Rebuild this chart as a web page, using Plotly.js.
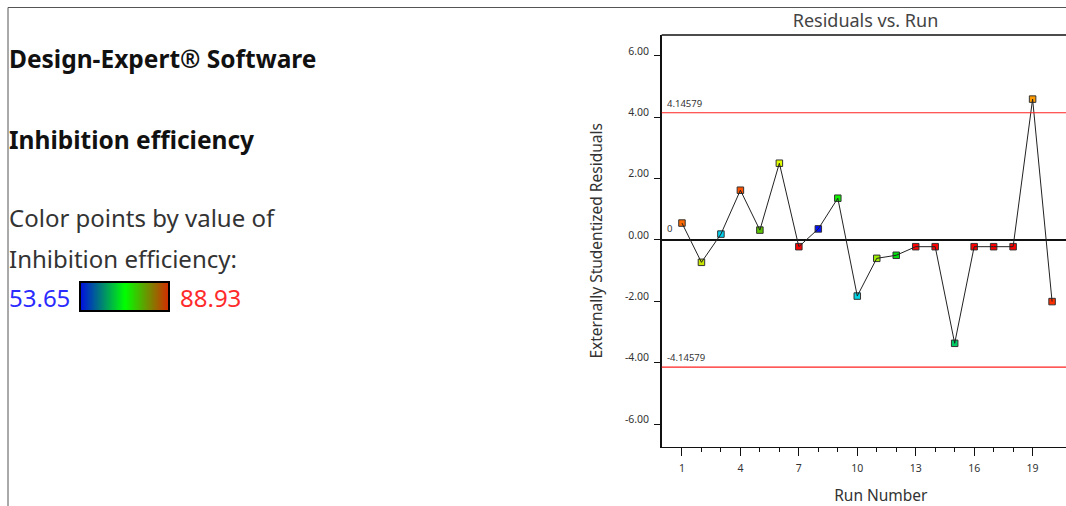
<!DOCTYPE html>
<html>
<head>
<meta charset="utf-8">
<script src="https://cdn.plot.ly/plotly-3.0.1.min.js"></script>
<style>
  html, body { margin: 0; padding: 0; background: #fff; overflow: hidden; }
  #wrap { width: 1066px; height: 506px; overflow: hidden; position: relative; }
  #chart { width: 1120px; height: 506px; position: absolute; left: 0; top: 0; }
</style>
</head>
<body>
<div id="wrap"><div id="chart"></div></div>
<script>
// Run order and externally studentized residuals
const runs = [1, 2, 3, 4, 5, 6, 7, 8, 9, 10, 11, 12, 13, 14, 15, 16, 17, 18, 19, 20];
const residuals = [0.55, -0.73, 0.19, 1.62, 0.32, 2.50, -0.22, 0.36, 1.36, -1.83,
                   -0.60, -0.50, -0.22, -0.22, -3.37, -0.22, -0.22, -0.22, 4.59, -2.01];
// Point colours (by Inhibition efficiency)
const pointColors = ['#ff6a00', '#c8e600', '#00d2f0', '#ff5200', '#5cc400', '#e2ff00', '#ff0000', '#0010ff', '#10f000', '#00d6e6',
                     '#9ced00', '#00de10', '#ff0000', '#ff0000', '#00cc66', '#ff0000', '#ff0000', '#ff0000', '#ff9a00', '#ff3000'];
// Outlier limits
const limitValue = 4.14579;
const limitLabels = ['4.14579', '-4.14579'];
// Axis ticks
const xMajorTicks = [1, 4, 7, 10, 13, 16, 19];
const xMinorTicks = [1, 2, 3, 4, 5, 6, 7, 8, 9, 10, 11, 12, 13, 14, 15, 16, 17, 18, 19];
const yTickVals = [-6, -4, -2, 0, 2, 4, 6];
const yTickText = ['-6.00', '-4.00', '-2.00', '0.00', '2.00', '4.00', '6.00'];
// Colour legend range
const effLow = 53.65;
const effHigh = 88.93;
const legendScale = [[0, '#0010e0'], [0.5, '#00ff00'], [1, '#d82800']];

const W = 1120, H = 506;
const px = v => v / W;
const py = v => 1 - v / H;
const plotLeft = px(661.7), plotRight = px(1100);
const plotBottom = py(446.7), plotTop = py(35);

const font = 'Noto Sans, Open Sans, sans-serif';

const traces = [
  {
    x: runs, y: residuals, type: 'scatter', mode: 'markers',
    marker: { symbol: 'square', size: 6.5, color: pointColors, line: { color: '#333', width: 1 } },
    xaxis: 'x', yaxis: 'y', hoverinfo: 'x+y', showlegend: false
  },
  {
    x: runs, y: residuals, type: 'scatter', mode: 'lines',
    line: { color: '#222', width: 1 },
    xaxis: 'x', yaxis: 'y', hoverinfo: 'skip', showlegend: false
  },
  {
    type: 'heatmap', x: [0, 1], y: [0, 1],
    z: [[effLow, effHigh], [effLow, effHigh]],
    zmin: effLow, zmax: effHigh, zsmooth: 'best',
    colorscale: legendScale, showscale: false, hoverinfo: 'skip',
    xaxis: 'x2', yaxis: 'y2'
  }
];

const layout = {
  width: W, height: H,
  margin: { l: 0, r: 0, t: 0, b: 0 },
  paper_bgcolor: '#fff', plot_bgcolor: '#fff',
  showlegend: false,
  font: { family: font, color: '#333' },
  title: {
    text: 'Residuals vs. Run',
    font: { family: font, size: 18, color: '#444' },
    x: px(865.5), xref: 'paper', xanchor: 'center',
    y: py(21), yref: 'container', yanchor: 'middle'
  },
  xaxis: {
    domain: [plotLeft, plotRight],
    range: [-0.04, 22.46],
    showgrid: false, zeroline: false,
    showline: true, linecolor: '#111', linewidth: 1.5, mirror: false,
    tickmode: 'array', tickvals: xMajorTicks,
    ticks: 'outside', ticklen: 8, tickcolor: '#111', tickwidth: 1,
    ticklabelstandoff: 3,
    minor: { tickmode: 'array', tickvals: xMinorTicks, ticks: 'outside', ticklen: 4, tickcolor: '#111', showgrid: false },
    tickfont: { family: font, size: 10.5, color: '#333' },
    title: { text: 'Run Number', font: { family: font, size: 15.5, color: '#333' }, standoff: 16 },
    automargin: false, fixedrange: true
  },
  yaxis: {
    domain: [plotBottom, plotTop],
    range: [-6.74, 6.68],
    showgrid: false, zeroline: true, zerolinecolor: '#111', zerolinewidth: 1.5,
    showline: true, linecolor: '#111', linewidth: 1.5, mirror: false,
    tickmode: 'array', tickvals: yTickVals, ticktext: yTickText,
    ticks: 'outside', ticklen: 6, tickcolor: '#111',
    tickfont: { family: font, size: 10.5, color: '#333' },
    ticklabelshift: -5, ticklabelstandoff: 3,
    title: { text: 'Externally Studentized Residuals', font: { family: font, size: 15.5, color: '#333' }, standoff: 18 },
    automargin: false, fixedrange: true
  },
  xaxis2: { domain: [px(80), px(169)], range: [0, 1], visible: false, fixedrange: true, anchor: 'y2' },
  yaxis2: { domain: [py(311), py(282)], range: [0, 1], visible: false, fixedrange: true, anchor: 'x2' },
  shapes: [
    // top edge of the plot area
    { type: 'line', xref: 'paper', yref: 'paper', x0: plotLeft, x1: plotRight, y0: plotTop, y1: plotTop, line: { color: '#111', width: 1.5 } },
    // outlier limits
    { type: 'line', xref: 'paper', yref: 'y', x0: plotLeft, x1: plotRight, y0: limitValue, y1: limitValue, line: { color: '#ff2020', width: 1.2 } },
    { type: 'line', xref: 'paper', yref: 'y', x0: plotLeft, x1: plotRight, y0: -limitValue, y1: -limitValue, line: { color: '#ff2020', width: 1.2 } },
    // colour legend border
    { type: 'rect', xref: 'paper', yref: 'paper', x0: px(80), x1: px(169), y0: py(311), y1: py(282), line: { color: '#000', width: 2 } },
    // page frame
    { type: 'line', xref: 'paper', yref: 'paper', x0: px(8), x1: 1, y0: py(7.5), y1: py(7.5), line: { color: '#555', width: 1 } },
    { type: 'line', xref: 'paper', yref: 'paper', x0: px(8), x1: px(8), y0: py(7.5), y1: 0, line: { color: '#555', width: 1 } }
  ],
  annotations: [
    { text: limitLabels[0], xref: 'paper', yref: 'y', x: px(665), y: limitValue, xanchor: 'left', yanchor: 'bottom', yshift: 1,
      showarrow: false, font: { family: font, size: 9.5, color: '#333' } },
    { text: limitLabels[1], xref: 'paper', yref: 'y', x: px(665), y: -limitValue, xanchor: 'left', yanchor: 'bottom', yshift: 1,
      showarrow: false, font: { family: font, size: 9.5, color: '#333' } },
    { text: '0', xref: 'paper', yref: 'y', x: px(665), y: 0, xanchor: 'left', yanchor: 'bottom', yshift: 3,
      showarrow: false, font: { family: font, size: 9.5, color: '#333' } },

    { text: '<b>Design-Expert® Software</b>', xref: 'paper', yref: 'paper', x: px(7), y: py(58.5), xanchor: 'left', yanchor: 'middle',
      showarrow: false, font: { family: font, size: 24.5, color: '#111' } },
    { text: '<b>Inhibition efficiency</b>', xref: 'paper', yref: 'paper', x: px(7), y: py(139.5), xanchor: 'left', yanchor: 'middle',
      showarrow: false, font: { family: font, size: 24.5, color: '#111' } },
    { text: 'Color points by value of', xref: 'paper', yref: 'paper', x: px(7), y: py(218), xanchor: 'left', yanchor: 'middle',
      showarrow: false, font: { family: font, size: 24, color: '#333' } },
    { text: 'Inhibition efficiency:', xref: 'paper', yref: 'paper', x: px(7), y: py(258), xanchor: 'left', yanchor: 'middle',
      showarrow: false, font: { family: font, size: 24, color: '#333' } },
    { text: effLow.toFixed(2), xref: 'paper', yref: 'paper', x: px(7), y: py(297.5), xanchor: 'left', yanchor: 'middle',
      showarrow: false, font: { family: font, size: 24, color: '#2b2bff' } },
    { text: effHigh.toFixed(2), xref: 'paper', yref: 'paper', x: px(178), y: py(297.5), xanchor: 'left', yanchor: 'middle',
      showarrow: false, font: { family: font, size: 24, color: '#ff2b2b' } }
  ]
};

Plotly.newPlot('chart', traces, layout, { displayModeBar: false, staticPlot: true });
</script>
</body>
</html>
